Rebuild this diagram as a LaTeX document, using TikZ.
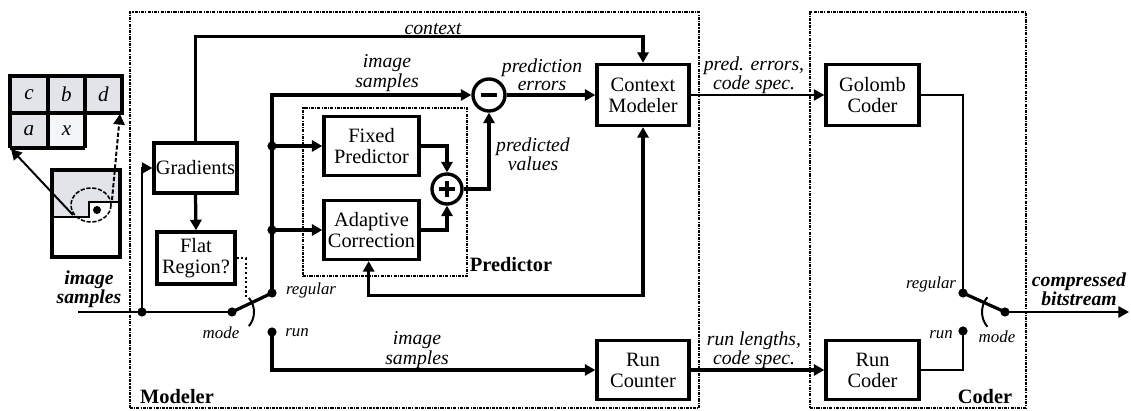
\documentclass[tikz,border=0pt]{standalone}
\usepackage{fontspec}
\setmainfont{Liberation Serif}
\usetikzlibrary{arrows.meta,calc}
\definecolor{cellgray}{RGB}{226,228,233}
\definecolor{cellwhite}{RGB}{244,245,247}
\begin{document}
\begin{tikzpicture}[x=0.025cm,y=-0.025cm,
  blk/.style={draw,line width=2.4pt,align=center,inner sep=1pt,font=\fontsize{14.5}{15}\selectfont},
  thk/.style={line width=2.3pt},
  thn/.style={line width=1.4pt},
  arr/.style={-{Triangle[length=7.5pt,width=8pt]}},
  arrtwo/.style={{Triangle[length=7.5pt,width=8pt]}-{Triangle[length=7.5pt,width=8pt]}},
  lab/.style={font=\fontsize{14}{12.5}\selectfont\itshape,align=center,inner sep=0pt},
  small/.style={font=\fontsize{12}{12}\selectfont\itshape,inner sep=0pt},
  bold/.style={font=\fontsize{14.5}{15}\selectfont\bfseries,inner sep=0pt},
  bolditl/.style={font=\fontsize{14}{12.5}\selectfont\bfseries\itshape,align=center,inner sep=0pt},
  grp/.style={draw,line width=1.1pt,dash pattern=on 2.2pt off 0.8pt on 0.8pt off 0.8pt,inner sep=0pt},
  dot/.style={circle,fill,inner sep=0pt,minimum size=0.23cm},
  cellt/.style={font=\fontsize{15}{15}\selectfont\itshape,inner sep=0pt}]
\useasboundingbox (0,0) rectangle (1131,411);

% group boxes
\node[grp,minimum width=14.225cm,minimum height=9.9cm] (modeler) at (414.5,210) {};
\node[grp,minimum width=5.4cm,minimum height=9.9cm] (coder) at (918,210) {};
\node[grp,minimum width=4.1cm,minimum height=4.2cm] (pred) at (385,192) {};
\node[bold] (modlab) at (177,397) {Modeler};
\node[bold] (codlab) at (985,397) {Coder};
\node[bold] (predlab) at (511,265) {Predictor};

% template grid
\fill[cellgray] (10,76) rectangle (122,113);
\fill[cellgray] (10,113) rectangle (48,148);
\fill[cellwhite] (48,113) rectangle (85,148);
\draw[line width=2.2pt] (10,148) -- (10,76) -- (122,76) -- (122,113) -- (10,113);
\draw[line width=2.2pt] (48,76) -- (48,148) (85,76) -- (85,148) (10,148) -- (85,148);
\node[cellt] (cc) at (29,94.5) {c};
\node[cellt] (cb) at (66.5,94.5) {b};
\node[cellt] (cd) at (103.5,94.5) {d};
\node[cellt] (ca) at (29,130.5) {a};
\node[cellt] (cx) at (66.5,130.5) {x};

% image sketch
\fill[cellgray] (52,170) -- (120,170) -- (120,202) -- (89,202) -- (89,217) -- (52,217) -- cycle;
\draw[line width=2.2pt] (52,170) rectangle (120,257);
\draw[line width=1.4pt] (52,217) -- (89,217) -- (89,202) -- (120,202);
\draw[line width=1.1pt,dash pattern=on 3pt off 1.2pt] (91,205) ellipse [x radius=0.5cm, y radius=0.425cm];
\fill (97,210) circle [radius=0.1cm];
\coordinate (e1) at (73,215);
\coordinate (g1) at (11,149);
\coordinate (e2) at (112,200);
\coordinate (g2) at (120,114);
\draw[line width=1.4pt,arr] (e1) -- (g1);
\draw[line width=1.4pt,dash pattern=on 3pt off 1.5pt,arr] (e2) -- (g2);

% blocks
\node[blk,minimum width=2.075cm,minimum height=1.25cm] (grad) at (195.5,168) {Gradients};
\node[blk,minimum width=1.95cm,minimum height=1.3cm] (flat) at (196,258) {Flat\\Region?};
\node[blk,minimum width=2.375cm,minimum height=1.475cm] (fixed) at (371.5,146) {Fixed\\Predictor};
\node[blk,minimum width=2.375cm,minimum height=1.475cm] (adapt) at (371.5,230) {Adaptive\\Correction};
\node[blk,minimum width=2.3cm,minimum height=1.525cm] (cm) at (643,95) {Context\\Modeler};
\node[blk,minimum width=2.3cm,minimum height=1.475cm] (rcount) at (643,370) {Run\\Counter};
\node[blk,minimum width=2.325cm,minimum height=1.525cm] (golomb) at (872.5,95) {Golomb\\Coder};
\node[blk,minimum width=2.325cm,minimum height=1.475cm] (rcoder) at (872.5,370) {Run\\Coder};
\node[circle,draw,line width=2.4pt,minimum size=0.75cm,inner sep=0pt] (plus) at (447,189) {};
\node[circle,draw,line width=2.4pt,minimum size=0.8cm,inner sep=0pt] (minus) at (489,95) {};
\draw[line width=2.8pt] ([xshift=-5.5pt]plus.center) -- ([xshift=5.5pt]plus.center)
  ([yshift=-5.5pt]plus.center) -- ([yshift=5.5pt]plus.center);
\draw[line width=2.8pt] ([xshift=-5.5pt]minus.center) -- ([xshift=5.5pt]minus.center);

% switch points and junctions
\coordinate (in) at (78,312);
\node[dot] (j0) at (142,312) {};
\node[dot] (piv) at (232,312) {};
\node[dot] (reg) at (272,293) {};
\node[dot] (run) at (272,332) {};
\node[dot] (j1) at (272,146) {};
\node[dot] (j2) at (272,230) {};
\node[dot] (creg) at (963,293) {};
\node[dot] (crun) at (963,331) {};
\node[dot] (cpiv) at (1005,312) {};
\coordinate (out) at (1129,312);
\coordinate (flatdn) at (246,297);

% connectors
\draw[thn] (in) -- (piv.center);
\draw[thn,arr] (j0.center) |- (grad.west);
\draw[thk] (piv.center) -- (reg.center);
\draw[thk,arr] (reg.center) |- (minus.west);
\draw[thk,arr] (j1.center) -- (fixed.west);
\draw[thk,arr] (j2.center) -- (adapt.west);
\draw[thk,arr] (grad.south) -- (flat.north);
\draw[thk,arr] (grad.north) -- ++(0,-105) -| (cm.north);
\draw[thk,arr] (fixed.east) -| (plus.north);
\draw[thk,arr] (adapt.east) -| (plus.south);
\draw[thk,arr] (plus.east) -| (minus.south);
\draw[thk,arr] (minus.east) -- (cm.west);
\draw[thk,arrtwo] ([xshift=-2pt]adapt.south) -- ++(0,34) -| (cm.south);
\draw[thk,arr] (run.center) |- (rcount.west);
\draw[thk,arr] (rcount.east) -- (rcoder.west);
\draw[thn,arr] (cm.east) -- (golomb.west);
\draw[thn] (golomb.east) -| (creg.center);
\draw[thn] (rcoder.east) -| (crun.center);
\draw[thk] (creg.center) -- (cpiv.center);
\draw[thn,arr] (cpiv.center) -- (out);
\draw[line width=1.5pt,dash pattern=on 1.5pt off 1.8pt] (flat.east) -| (flatdn);
\draw[thn] (piv.center) ++(40:0.55cm) arc[start angle=40,end angle=-40,radius=0.55cm];
\draw[thn] (cpiv.center) ++(140:0.575cm) arc[start angle=140,end angle=220,radius=0.575cm];

% labels
\node[bolditl] (inlab) at (89,289) {image\\samples};
\node[bolditl] (outlab) at (1079,289) {compressed\\bitstream};
\node[lab] (ctxlab) at (433,29) {context};
\node[lab] (islab) at (387,73) {image\\samples};
\node[lab] (pelab) at (542,75) {prediction\\errors};
\node[lab] (pvlab) at (533,154) {predicted\\values};
\node[lab] (pecs) at (754,75) {pred. errors,\\code spec.};
\node[lab] (islab2) at (417,350) {image\\samples};
\node[lab] (rlcs) at (754,350) {run lengths,\\code spec.};
\node[small] (reglab) at (311,290) {regular};
\node[small] (runlab) at (297,333) {run};
\node[small] (modelab) at (221,333) {mode};
\node[small] (creglab) at (931,284) {regular};
\node[small] (crunlab) at (941,335) {run};
\node[small] (cmodelab) at (997,337) {mode};
\end{tikzpicture}
\end{document}
